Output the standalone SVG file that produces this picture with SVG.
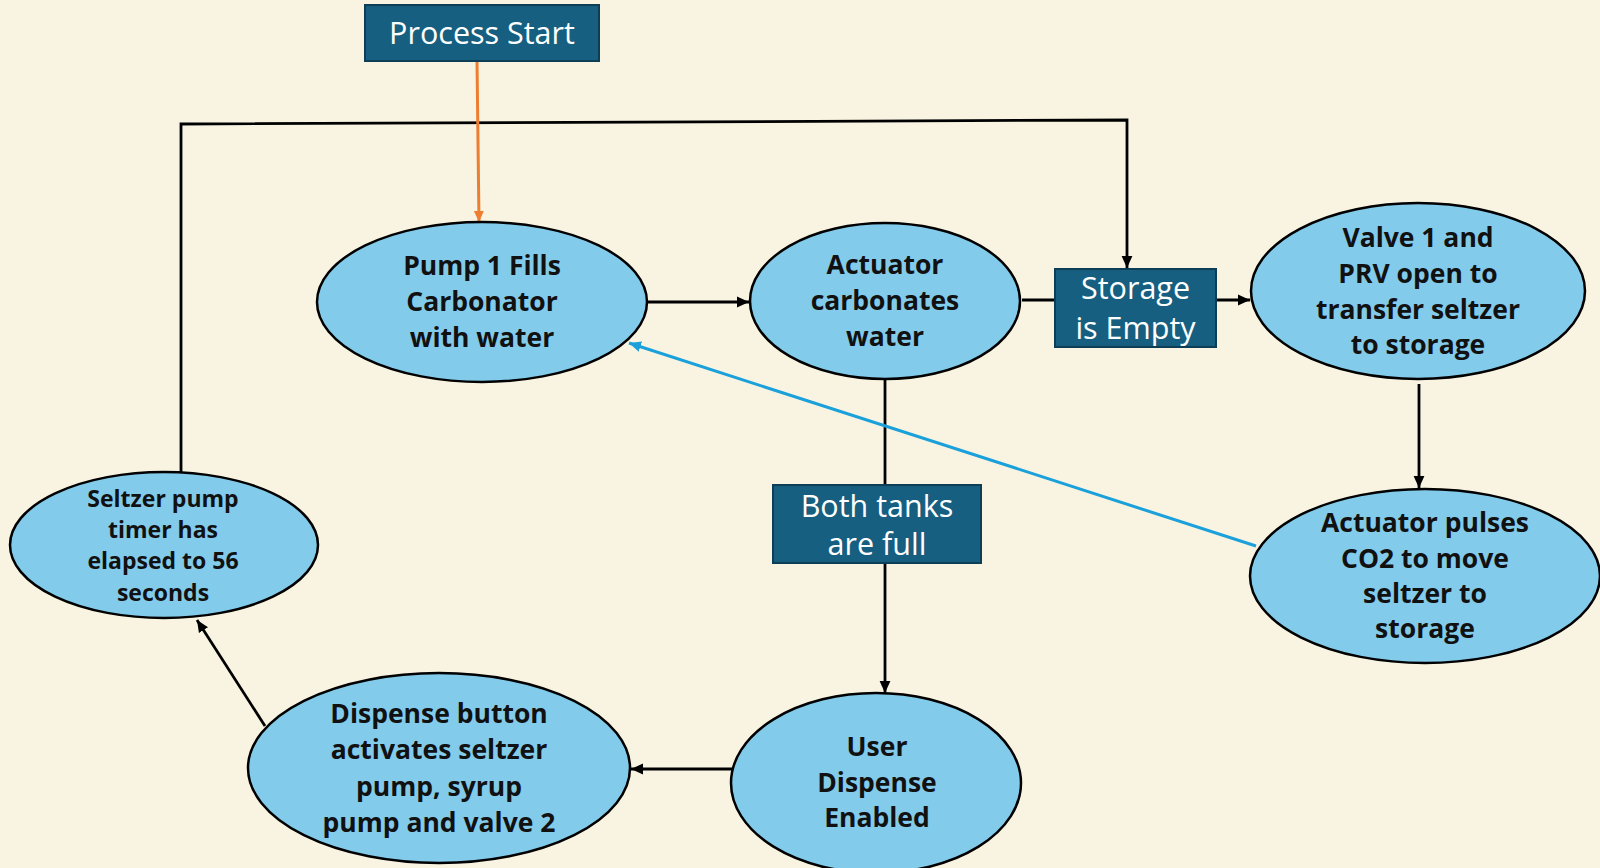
<svg xmlns="http://www.w3.org/2000/svg" width="1600" height="868" viewBox="0 0 1600 868">
<defs>
<style>
.bg{fill:#F9F4E1}
.ell{fill:#83CBEB;stroke:#000;stroke-width:2.5}
.box{fill:#165F80;stroke:#0E3E55;stroke-width:2}
.et{font-family:"Open Sans","Liberation Sans",sans-serif;font-weight:700;font-size:26.5px;fill:#111;text-anchor:middle}
.es{font-size:23px}
.bt{font-family:"Open Sans","Liberation Sans",sans-serif;font-size:30.5px;fill:#fff;text-anchor:middle}
.ln{fill:none;stroke:#000;stroke-width:2.8}
</style>
<marker id="ah" markerUnits="userSpaceOnUse" markerWidth="12" markerHeight="12" viewBox="0 0 10 10" refX="10" refY="5" orient="auto">
<path d="M0,0.5 L10,5 L0,9.5 Z" fill="#000"/>
</marker>
<marker id="ao" markerUnits="userSpaceOnUse" markerWidth="11" markerHeight="11" viewBox="0 0 10 10" refX="10" refY="5" orient="auto">
<path d="M0,0.5 L10,5 L0,9.5 Z" fill="#ED7D31"/>
</marker>
<marker id="ab" markerUnits="userSpaceOnUse" markerWidth="12" markerHeight="12" viewBox="0 0 10 10" refX="10" refY="5" orient="auto">
<path d="M0,0.5 L10,5 L0,9.5 Z" fill="#1AA0DA"/>
</marker>
</defs>
<rect class="bg" x="0" y="0" width="1600" height="868"/>
<g id="connectors">
<path class="ln" d="M181,472 V124 L1127,120 V268" marker-end="url(#ah)"/>
<path class="ln" d="M647,302 H749" marker-end="url(#ah)"/>
<path class="ln" d="M1022,300 H1055"/>
<path class="ln" d="M1216,300 H1250" marker-end="url(#ah)"/>
<path class="ln" d="M1419,384 V488" marker-end="url(#ah)"/>
<path class="ln" d="M885,379 V485"/>
<path class="ln" d="M885,563 V693" marker-end="url(#ah)"/>
<path class="ln" d="M732,769 H631" marker-end="url(#ah)"/>
<path class="ln" d="M265,726 L197,620" marker-end="url(#ah)"/>
<path d="M1256,546 L629,343" fill="none" stroke="#1AA0DA" stroke-width="3" marker-end="url(#ab)"/>
<path d="M477,61 L479,222" fill="none" stroke="#ED7D31" stroke-width="3" marker-end="url(#ao)"/>
</g>
<g id="process-start">
<rect class="box" x="365" y="5" width="234" height="56"/>
<text class="bt" x="482" y="44">Process Start</text>
</g>
<g id="pump1">
<ellipse class="ell" cx="482" cy="302" rx="165" ry="80"/>
<text class="et" x="482" y="275">Pump 1 Fills</text>
<text class="et" x="482" y="311">Carbonator</text>
<text class="et" x="482" y="347">with water</text>
</g>
<g id="actuator">
<ellipse class="ell" cx="885" cy="301" rx="135" ry="78"/>
<text class="et" x="885" y="274">Actuator</text>
<text class="et" x="885" y="310">carbonates</text>
<text class="et" x="885" y="346">water</text>
</g>
<g id="storage-empty">
<rect class="box" x="1055" y="269" width="161" height="78"/>
<text class="bt" x="1135.5" y="299">Storage</text>
<text class="bt" x="1135.5" y="339">is Empty</text>
</g>
<g id="valve1">
<ellipse class="ell" cx="1418" cy="291" rx="167" ry="88"/>
<text class="et" x="1418" y="247">Valve 1 and</text>
<text class="et" x="1418" y="283">PRV open to</text>
<text class="et" x="1418" y="319">transfer seltzer</text>
<text class="et" x="1418" y="354">to storage</text>
</g>
<g id="actuator-pulses">
<ellipse class="ell" cx="1425" cy="576" rx="175" ry="87"/>
<text class="et" x="1425" y="532">Actuator pulses</text>
<text class="et" x="1425" y="568">CO2 to move</text>
<text class="et" x="1425" y="603">seltzer to</text>
<text class="et" x="1425" y="638">storage</text>
</g>
<g id="both-full">
<rect class="box" x="773" y="485" width="208" height="78"/>
<text class="bt" x="877" y="517">Both tanks</text>
<text class="bt" x="877" y="555">are full</text>
</g>
<g id="user-dispense">
<ellipse class="ell" cx="876" cy="783" rx="145" ry="90"/>
<text class="et" x="877" y="756">User</text>
<text class="et" x="877" y="792">Dispense</text>
<text class="et" x="877" y="827">Enabled</text>
</g>
<g id="dispense-button">
<ellipse class="ell" cx="439" cy="768" rx="191" ry="95"/>
<text class="et" x="439" y="723">Dispense button</text>
<text class="et" x="439" y="759">activates seltzer</text>
<text class="et" x="439" y="796">pump, syrup</text>
<text class="et" x="439" y="832">pump and valve 2</text>
</g>
<g id="seltzer-timer">
<ellipse class="ell" cx="164" cy="545" rx="154" ry="73"/>
<text class="et es" x="163" y="507">Seltzer pump</text>
<text class="et es" x="163" y="538">timer has</text>
<text class="et es" x="163" y="569">elapsed to 56</text>
<text class="et es" x="163" y="601">seconds</text>
</g>
</svg>
